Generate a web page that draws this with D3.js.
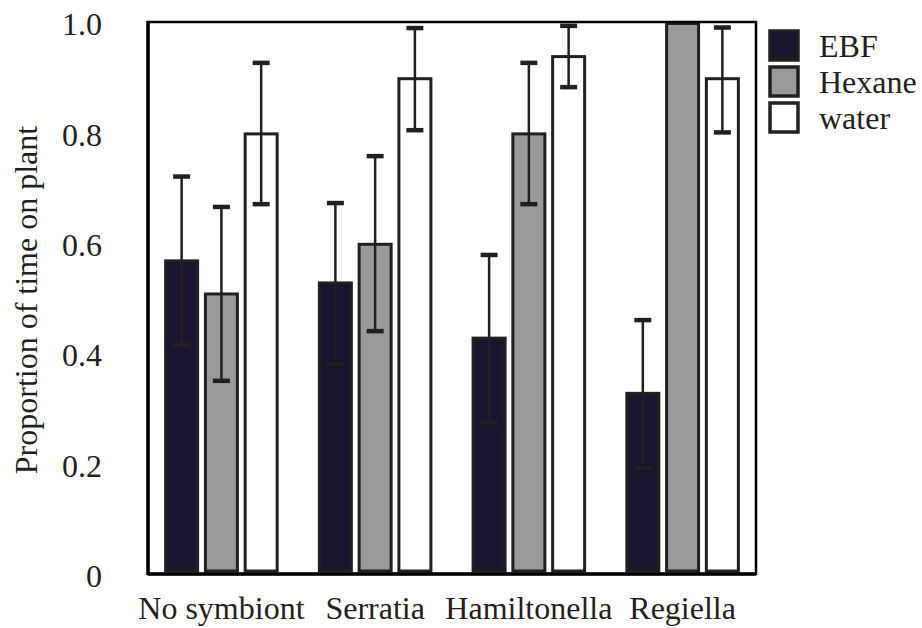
<!DOCTYPE html>
<html>
<head>
<meta charset="utf-8">
<script src="https://cdn.jsdelivr.net/npm/d3@7"></script>
<style>
  body { margin: 0; background: #fff; }
</style>
</head>
<body>
<svg id="chart" width="922" height="628"></svg>
<script>
const groups = ["No symbiont", "Serratia", "Hamiltonella", "Regiella"];
const treatments = ["EBF", "Hexane", "water"];
const colors = ["#1a1430", "#999999", "#ffffff"];

// means per treatment, one value per group
const ebf = [0.57, 0.53, 0.43, 0.33];
const hexane = [0.51, 0.60, 0.80, 1.00];
const water = [0.80, 0.90, 0.94, 0.90];

// error bar ends (null = no bar)
const ebfLow = [0.415, 0.38, 0.275, 0.192];
const ebfHigh = [0.72, 0.672, 0.578, 0.46];
const hexLow = [0.35, 0.44, 0.67, null];
const hexHigh = [0.665, 0.757, 0.926, null];
const watLow = [0.67, 0.804, 0.882, 0.80];
const watHigh = [0.926, 0.989, 0.993, 0.99];

const yTicks = [0, 0.2, 0.4, 0.6, 0.8, 1.0];

const series = [
  { values: ebf, low: ebfLow, high: ebfHigh },
  { values: hexane, low: hexLow, high: hexHigh },
  { values: water, low: watLow, high: watHigh }
];

const svg = d3.select("#chart");
const mLeft = 148, mRight = 756, mTop = 22, mBottom = 574;
const ink = "#231f20";
const serif = "'Liberation Serif', 'Times New Roman', Times, serif";

const x0 = d3.scaleBand().domain(groups).range([mLeft, mRight]).paddingInner(0.255).paddingOuter(0.105);
const x1 = d3.scaleBand().domain(treatments).range([0, x0.bandwidth()]).paddingInner(0.12);
const y = d3.scaleLinear().domain([0, 1]).range([mBottom, mTop]);

// bars
series.forEach((s, i) => {
  svg.append("g").selectAll("rect")
    .data(groups)
    .enter().append("rect")
    .attr("x", g => x0(g) + x1(treatments[i]) + 1.5)
    .attr("y", (g, j) => y(s.values[j]) + 1.5)
    .attr("width", x1.bandwidth() - 3)
    .attr("height", (g, j) => Math.max(0, mBottom - 3 - y(s.values[j]) - 1.5))
    .style("fill", colors[i])
    .style("stroke", ink)
    .style("stroke-width", 3);
});

// error bars
series.forEach((s, i) => {
  groups.forEach((g, j) => {
    if (s.low[j] == null) return;
    const cx = x0(g) + x1(treatments[i]) + x1.bandwidth() / 2;
    const eb = svg.append("g");
    eb.append("line")
      .attr("x1", cx).attr("x2", cx)
      .attr("y1", y(s.high[j])).attr("y2", y(s.low[j]))
      .style("stroke", ink).style("stroke-width", 2.5);
    [s.high[j], s.low[j]].forEach(v => {
      eb.append("line")
        .attr("x1", cx - 8.5).attr("x2", cx + 8.5)
        .attr("y1", y(v)).attr("y2", y(v))
        .style("stroke", ink).style("stroke-width", 4.5);
    });
  });
});

// frame
svg.append("rect")
  .attr("x", mLeft).attr("y", mTop)
  .attr("width", mRight - mLeft).attr("height", mBottom - mTop)
  .style("fill", "none").style("stroke", "#000").style("stroke-width", 2.5);
svg.append("line").attr("x1", mLeft).attr("x2", mLeft).attr("y1", mTop - 1).attr("y2", mBottom + 1)
  .style("stroke", "#000").style("stroke-width", 3.5);
svg.append("line").attr("x1", mLeft).attr("x2", mRight).attr("y1", mBottom).attr("y2", mBottom)
  .style("stroke", "#000").style("stroke-width", 3.5);

// y tick labels
svg.append("g").selectAll("text")
  .data(yTicks)
  .enter().append("text")
  .attr("x", 102)
  .attr("y", d => y(d) + 2)
  .attr("dy", "0.35em")
  .attr("text-anchor", "end")
  .style("font-family", serif)
  .style("fill", ink)
  .style("font-size", "32px")
  .text(d => d === 0 ? "0" : d.toFixed(1));

// x labels
svg.append("g").selectAll("text")
  .data(groups)
  .enter().append("text")
  .attr("x", g => x0(g) + x0.bandwidth() / 2)
  .attr("y", 619)
  .attr("text-anchor", "middle")
  .style("font-family", serif)
  .style("fill", ink)
  .style("font-size", "32px")
  .text(g => g);

// y title
svg.append("text")
  .attr("transform", "translate(37,300) rotate(-90)")
  .attr("text-anchor", "middle")
  .style("font-family", serif)
  .style("fill", ink)
  .style("font-size", "32px")
  .text("Proportion of time on plant");

// legend
const legend = svg.append("g");
treatments.forEach((t, i) => {
  legend.append("rect")
    .attr("x", 770).attr("y", 31 + i * 36)
    .attr("width", 28).attr("height", 29)
    .style("fill", colors[i]).style("stroke", ink).style("stroke-width", 3.5);
  legend.append("text")
    .attr("x", 819).attr("y", 46 + i * 36)
    .attr("dy", "0.35em")
    .style("font-family", serif)
    .style("fill", ink)
    .style("font-size", "32px")
    .text(t);
});
</script>
</body>
</html>
